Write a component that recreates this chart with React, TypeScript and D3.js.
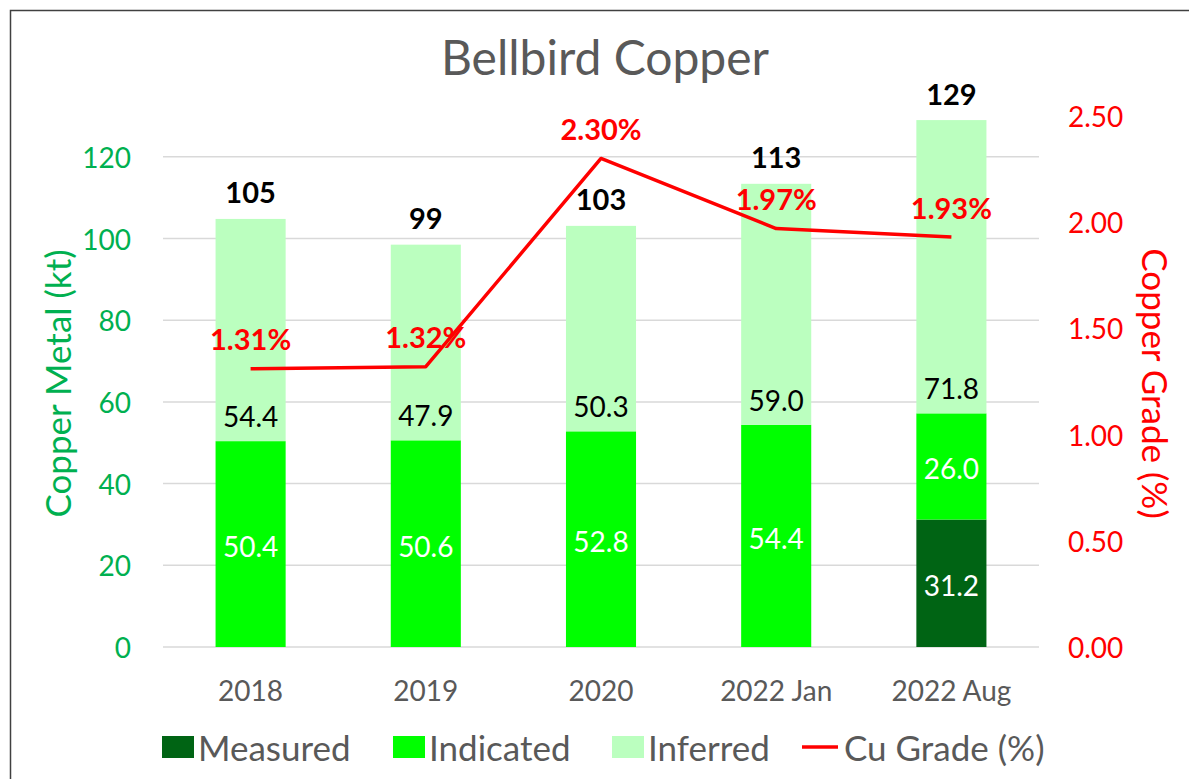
import * as d3 from 'd3';
import React from 'react';

const categories = ['2018', '2019', '2020', '2022 Jan', '2022 Aug'];
const measured = [0, 0, 0, 0, 31.2];
const indicated = [50.4, 50.6, 52.8, 54.4, 26.0];
const inferred = [54.4, 47.9, 50.3, 59.0, 71.8];
const totals = [105, 99, 103, 113, 129];
const cuGrade = [1.31, 1.32, 2.3, 1.97, 1.93];

const metalTicks = [0, 20, 40, 60, 80, 100, 120];
const gradeTicks = [0, 0.5, 1, 1.5, 2, 2.5];

const WIDTH = 1189;
const HEIGHT = 779;
const FONT = 'Lato, "Open Sans", sans-serif';

const C_MEASURED = '#006414';
const C_INDICATED = '#00FF00';
const C_INFERRED = '#BBFFBF';
const C_LINE = '#FF0000';
const C_GREEN_AXIS = '#00B050';
const C_GRAY = '#595959';

const plot = { left: 163, right: 1039, top: 116, bottom: 647 };

export default function App() {
  const x = d3.scaleBand().domain(categories).range([plot.left, plot.right]).paddingInner(0.6).paddingOuter(0.3);
  const yMetal = d3.scaleLinear().domain([0, 130]).range([plot.bottom, plot.top]);
  const yGrade = d3.scaleLinear().domain([0, 2.5]).range([plot.bottom, plot.top]);
  const cx = (c: string) => (x(c) || 0) + x.bandwidth() / 2;

  const line = d3
    .line<number>()
    .x((_, i) => cx(categories[i]))
    .y(d => yGrade(d));

  const segs = categories.map((c, i) => {
    const m0 = 0;
    const m1 = measured[i];
    const i1 = m1 + indicated[i];
    const f1 = i1 + inferred[i];
    return { c, i, m0, m1, i1, f1 };
  });

  const legend = [
    { label: 'Measured', kind: 'rect', color: C_MEASURED, x: 162 },
    { label: 'Indicated', kind: 'rect', color: C_INDICATED, x: 393 },
    { label: 'Inferred', kind: 'rect', color: C_INFERRED, x: 612 },
    { label: 'Cu Grade (%)', kind: 'line', color: C_LINE, x: 800 },
  ];

  return (
    <svg
      width={WIDTH}
      height={HEIGHT}
      style={{ position: 'absolute', left: 0, top: 0, background: '#fff' }}
      fontFamily={FONT}
    >
      <rect x={10.5} y={10.5} width={WIDTH + 20} height={HEIGHT + 20} fill="#fff" stroke="#404040" strokeWidth={1.5} />

      <text x={605} y={56} textAnchor="middle" dominantBaseline="central" fontSize={48} fill={C_GRAY}>
        Bellbird Copper
      </text>

      {/* gridlines */}
      {metalTicks.map(t => (
        <line key={t} x1={plot.left} x2={plot.right} y1={yMetal(t)} y2={yMetal(t)} stroke="#D9D9D9" strokeWidth={1.5} />
      ))}

      {/* left axis */}
      {metalTicks.map(t => (
        <text key={t} x={131} y={yMetal(t)} textAnchor="end" dominantBaseline="central" fontSize={28} fill={C_GREEN_AXIS}>
          {t}
        </text>
      ))}
      <text
        transform={`translate(57,${(plot.top + plot.bottom) / 2 + 2}) rotate(-90)`}
        textAnchor="middle"
        dominantBaseline="central"
        fontSize={35}
        fill={C_GREEN_AXIS}
      >
        Copper Metal (kt)
      </text>

      {/* right axis */}
      {gradeTicks.map(t => (
        <text key={t} x={1068} y={yGrade(t)} textAnchor="start" dominantBaseline="central" fontSize={28} fill={C_LINE}>
          {d3.format('.2f')(t)}
        </text>
      ))}
      <text
        transform={`translate(1156,${(plot.top + plot.bottom) / 2 + 2}) rotate(90)`}
        textAnchor="middle"
        dominantBaseline="central"
        fontSize={35}
        fill={C_LINE}
      >
        Copper Grade (%)
      </text>

      {/* bars */}
      {segs.map(s => (
        <g key={s.c}>
          {s.m1 > 0 && (
            <rect x={x(s.c)} width={x.bandwidth()} y={yMetal(s.m1)} height={yMetal(s.m0) - yMetal(s.m1)} fill={C_MEASURED} />
          )}
          <rect x={x(s.c)} width={x.bandwidth()} y={yMetal(s.i1)} height={yMetal(s.m1) - yMetal(s.i1)} fill={C_INDICATED} />
          <rect x={x(s.c)} width={x.bandwidth()} y={yMetal(s.f1)} height={yMetal(s.i1) - yMetal(s.f1)} fill={C_INFERRED} />
        </g>
      ))}

      {/* segment labels */}
      {segs.map(s => (
        <g key={s.c} fontSize={28} textAnchor="middle" dominantBaseline="central">
          {s.m1 > 0 && (
            <text x={cx(s.c)} y={(yMetal(s.m0) + yMetal(s.m1)) / 2 + 2} fill="#fff">
              {measured[s.i].toFixed(1)}
            </text>
          )}
          <text x={cx(s.c)} y={(yMetal(s.m1) + yMetal(s.i1)) / 2 + 2} fill="#fff">
            {indicated[s.i].toFixed(1)}
          </text>
          <text x={cx(s.c)} y={yMetal(s.i1) - 25} fill="#000">
            {inferred[s.i].toFixed(1)}
          </text>
          <text x={cx(s.c)} y={yMetal(s.f1) - 27} fill="#000" fontWeight="bold" fontSize={29}>
            {totals[s.i]}
          </text>
        </g>
      ))}

      {/* grade line */}
      <path d={line(cuGrade) || ''} fill="none" stroke={C_LINE} strokeWidth={3.5} strokeLinejoin="round" />
      {cuGrade.map((g, i) => (
        <text
          key={i}
          x={cx(categories[i])}
          y={yGrade(g) - 30}
          textAnchor="middle"
          dominantBaseline="central"
          fontSize={29}
          fontWeight="bold"
          fill={C_LINE}
        >
          {`${g.toFixed(2)}%`}
        </text>
      ))}

      {/* category labels */}
      {categories.map(c => (
        <text key={c} x={cx(c)} y={690} textAnchor="middle" dominantBaseline="central" fontSize={28} fill={C_GRAY}>
          {c}
        </text>
      ))}

      {/* legend */}
      {legend.map(l => (
        <g key={l.label}>
          {l.kind === 'rect' ? (
            <rect x={l.x} y={736} width={32} height={22} fill={l.color} />
          ) : (
            <line x1={l.x + 2} x2={l.x + 38} y1={747} y2={747} stroke={l.color} strokeWidth={3.5} />
          )}
          <text x={l.x + (l.kind === 'rect' ? 36 : 44)} y={747} dominantBaseline="central" fontSize={35} fill={C_GRAY}>
            {l.label}
          </text>
        </g>
      ))}
    </svg>
  );
}
